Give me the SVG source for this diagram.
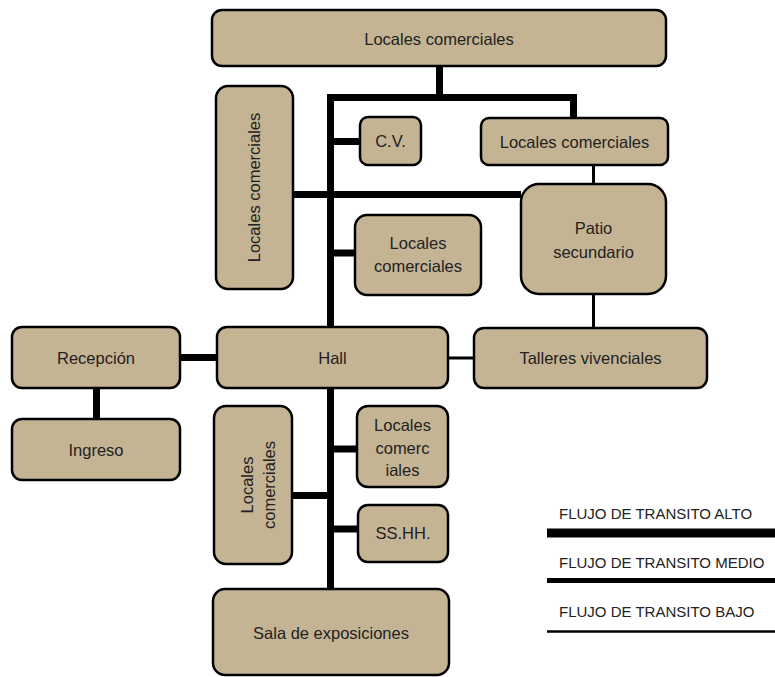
<svg xmlns="http://www.w3.org/2000/svg" width="775" height="677" viewBox="0 0 775 677">
<style>
.n rect{fill:#C4B494;stroke:#000;stroke-width:2.5}
text{font-family:"Liberation Sans",Arial,sans-serif;font-size:16.5px;fill:#222;text-anchor:middle;dominant-baseline:central}
.hi{stroke:#000;stroke-width:7;fill:none}
.lo{stroke:#000;stroke-width:3;fill:none}
.leg{text-anchor:start;dominant-baseline:auto;font-size:15px}
</style>
<rect width="775" height="677" fill="#fff"/>
<g id="connectors">
<path class="hi" d="M439.5 66V97.5M327 97.5H577M573.5 97.5V118"/>
<path class="hi" d="M330.5 94V328M330.5 388V589"/>
<path class="hi" d="M330.5 141.5H360M293 194.5H521M330.5 253H355"/>
<path class="hi" d="M180 357.5H217M96.5 388V419"/>
<path class="hi" d="M330.5 449H357M292 495.5H330.5M330.5 529H358"/>
<path class="lo" d="M593.5 165V184M593.5 294V328M448 358H474"/>
</g>
<g id="n-top" class="n"><rect x="212" y="10" width="454" height="56" rx="10"/><text x="439" y="39">Locales comerciales</text></g>
<g id="n-cv" class="n"><rect x="360" y="117" width="61" height="48" rx="8"/><text x="390.5" y="141">C.V.</text></g>
<g id="n-lc-right" class="n"><rect x="481" y="118" width="187" height="47" rx="8"/><text x="574.5" y="141.5">Locales comerciales</text></g>
<g id="n-patio" class="n"><rect x="521" y="184" width="145" height="110" rx="18"/><text x="593.5" y="228">Patio</text><text x="593.5" y="252">secundario</text></g>
<g id="n-lc-left" class="n"><rect x="216" y="86" width="77" height="203" rx="12"/><text transform="translate(253.5 187.5) rotate(-90)">Locales comerciales</text></g>
<g id="n-lc-mid" class="n"><rect x="355" y="215" width="126" height="80" rx="12"/><text x="418" y="243">Locales</text><text x="418" y="266">comerciales</text></g>
<g id="n-hall" class="n"><rect x="217" y="327" width="231" height="61" rx="10"/><text x="332.5" y="357.5">Hall</text></g>
<g id="n-recepcion" class="n"><rect x="12" y="327" width="168" height="61" rx="10"/><text x="96" y="357.5">Recepción</text></g>
<g id="n-ingreso" class="n"><rect x="12" y="419" width="168" height="61" rx="10"/><text x="96" y="449.5">Ingreso</text></g>
<g id="n-talleres" class="n"><rect x="474" y="328" width="233" height="60" rx="10"/><text x="590.5" y="358">Talleres vivenciales</text></g>
<g id="n-lc-low-right" class="n"><rect x="357" y="406" width="91" height="81" rx="11"/><text x="402.5" y="425">Locales</text><text x="402.5" y="447.5">comerc</text><text x="402.5" y="470">iales</text></g>
<g id="n-sshh" class="n"><rect x="358" y="505" width="90" height="57" rx="10"/><text x="403" y="533">SS.HH.</text></g>
<g id="n-lc-low-left" class="n"><rect x="214" y="406" width="78" height="158" rx="12"/><text transform="translate(247 485) rotate(-90)">Locales</text><text transform="translate(269 485) rotate(-90)">comerciales</text></g>
<g id="n-sala" class="n"><rect x="213" y="589" width="236" height="86" rx="12"/><text x="331" y="633">Sala de exposiciones</text></g>
<g id="legend">
<text class="leg" x="559" y="519">FLUJO DE TRANSITO ALTO</text>
<path d="M547 533H775" stroke="#000" stroke-width="9"/>
<text class="leg" x="559" y="568">FLUJO DE TRANSITO MEDIO</text>
<path d="M547 580.5H775" stroke="#000" stroke-width="5"/>
<text class="leg" x="559" y="617">FLUJO DE TRANSITO BAJO</text>
<path d="M547 631.5H775" stroke="#000" stroke-width="2.5"/>
</g>
</svg>
